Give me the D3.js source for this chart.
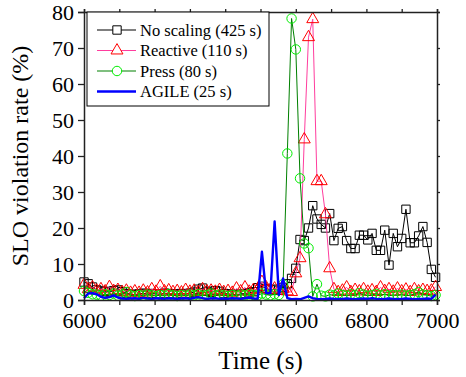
<!DOCTYPE html>
<html>
<head>
<meta charset="utf-8">
<script src="https://cdn.jsdelivr.net/npm/d3@7"></script>
<style>
  body { margin: 0; background: #fff; }
</style>
</head>
<body>
<div id="chart"></div>
<script>
(function()
{
    var width = 466;
    var height = 377;
    var margin = {top: 12, right: 29, bottom: 77, left: 84};
    var serif = "'Liberation Serif', 'Times New Roman', Times, serif";

    // sample times, one every 12 s
    var times = d3.range(6000, 7000, 12);

    var noScaling = [5.0, 4.5, 3.6, 2.8, 2.5, 2.4, 2.2, 2.6, 2.8, 2.3,
        1.8, 1.6, 1.5, 1.7, 1.9, 1.6, 1.8, 1.7, 1.6, 1.9,
        1.8, 1.6, 1.7, 1.8, 1.6, 1.9, 2.2, 3.0, 3.3, 2.4,
        2.1, 2.6, 2.4, 1.8, 1.7, 1.6, 1.5, 1.7, 1.8, 2.0,
        2.3, 3.4, 3.8, 3.2, 2.8, 3.0, 2.7, 3.5, 4.5, 6.0,
        8.8, 16.8, 16.5, 20.0, 26.2, 22.5, 21.0, 20.0, 24.0, 16.5,
        19.9, 20.4, 16.5, 14.3, 14.3, 18.0, 18.0, 16.7, 18.5, 13.8,
        13.8, 19.4, 9.7, 18.5, 14.8, 17.1, 25.2, 15.9, 15.9, 17.8,
        20.4, 16.0, 8.5, 6.3];

    var reactive = [4.2, 3.0, 3.5, 2.6, 3.0, 2.4, 3.6, 2.5, 2.8, 2.2,
        2.6, 2.0, 2.4, 2.0, 2.6, 2.1, 3.0, 2.3, 3.8, 2.4,
        2.7, 2.2, 2.5, 2.1, 2.8, 2.3, 2.6, 2.2, 3.0, 2.4,
        2.6, 2.3, 2.8, 2.2, 2.5, 2.0, 3.2, 2.4, 3.5, 2.3,
        2.8, 3.0, 5.0, 3.5, 2.8, 3.2, 2.6, 3.0, 2.4, 2.2,
        7.4, 11.6, 44.6, 73.0, 78.0, 33.0, 33.0, 23.8, 8.8, 3.0,
        2.2, 2.6, 3.5, 2.2, 2.8, 2.4, 3.0, 2.3, 2.7, 2.2,
        3.5, 2.5, 3.0, 2.3, 3.2, 2.4, 2.9, 2.2, 3.0, 2.4,
        2.8, 2.5, 2.6, 3.6];

    var press = [2.5, 2.0, 1.6, 1.5, 1.2, 1.6, 1.4, 1.8, 1.2, 1.5,
        2.2, 1.3, 1.1, 1.4, 1.2, 1.5, 1.3, 1.1, 1.4, 1.2,
        1.6, 1.3, 1.1, 1.4, 1.2, 1.5, 1.3, 1.6, 1.2, 1.4,
        1.8, 1.2, 1.5, 1.3, 1.1, 1.4, 1.2, 1.5, 1.3, 1.6,
        1.4, 1.3, 1.8, 1.5, 1.3, 1.6, 1.4, 4.4, 40.7, 78.2,
        69.6, 33.8, 15.7, 14.4, 1.0, 4.4, 1.2, 1.0, 1.5, 1.3,
        1.8, 1.4, 1.2, 1.6, 1.3, 1.9, 1.5, 1.2, 1.4, 1.7,
        1.3, 1.6, 1.2, 1.4, 1.3, 1.5, 1.2, 1.4, 1.6, 2.2,
        1.5, 1.3, 1.1, 1.4];

    var agile = [0.5, 1.8, 1.9, 1.6, 0.9, 0.6, 0.8, 1.3, 0.7, 0.4,
        0.3, 0.4, 0.5, 0.3, 0.6, 0.4, 0.3, 0.5, 0.4, 0.3,
        0.5, 0.4, 0.3, 0.4, 0.5, 0.3, 0.6, 0.8, 0.5, 0.3,
        0.4, 0.5, 0.3, 0.4, 0.3, 0.5, 0.4, 0.3, 0.5, 0.7,
        0.4, 0.3, 13.4, 1.9, 1.9, 21.8, 1.4, 6.0, 0.5, 0.2,
        0.3, 0.2, 0.6, 1.0, 0.5, 0.3, 0.2, 0.3, 0.4, 0.3,
        0.2, 0.3, 0.4, 0.3, 0.2, 0.3, 0.4, 0.3, 0.5, 0.3,
        0.2, 0.3, 0.4, 0.3, 0.2, 0.3, 0.4, 0.3, 0.2, 0.3,
        0.3, 0.4, 0.3, 1.5];

    var seriesNames = ["No scaling (425 s)", "Reactive (110 s)", "Press (80 s)", "AGILE (25 s)"];
    var xTicks = [6000, 6200, 6400, 6600, 6800, 7000];
    var yTicks = [0, 10, 20, 30, 40, 50, 60, 70, 80];

    var series = [
        {name: seriesNames[0], values: noScaling, line: "#000000", mark: "#000000", shape: "square", lw: 1},
        {name: seriesNames[1], values: reactive, line: "#ff3d9e", mark: "#ff0000", shape: "triangle", lw: 1},
        {name: seriesNames[2], values: press, line: "#008000", mark: "#00ee00", shape: "circle", lw: 1},
        {name: seriesNames[3], values: agile, line: "#0000ff", mark: null, shape: null, lw: 2.4}
    ];

    var iw = width - margin.left - margin.right;
    var ih = height - margin.top - margin.bottom;

    var svg = d3.select("#chart").append("svg")
        .attr("width", width)
        .attr("height", height)
        .style("font-family", serif);

    var g = svg.append("g").attr("transform", "translate(" + margin.left + "," + margin.top + ")");

    var x = d3.scaleLinear().domain([6000, 7000]).range([0, iw]);
    var y = d3.scaleLinear().domain([0, 80]).range([ih, 0]);

    var symbols = {
        square: d3.symbol().type(d3.symbolSquare).size(70),
        triangle: d3.symbol().type(d3.symbolTriangle).size(62),
        circle: d3.symbol().type(d3.symbolCircle).size(70)
    };

    var plot = g.append("g");

    series.forEach(function(s) {
        var pts = s.values.map(function(v, i) { return [times[i], v]; });
        plot.append("path")
            .datum(pts)
            .attr("fill", "none")
            .attr("stroke", s.line)
            .attr("stroke-width", s.lw)
            .attr("stroke-linejoin", "round")
            .attr("d", d3.line().x(function(d){return x(d[0])}).y(function(d){return y(d[1])}));
        if (s.shape) {
            plot.selectAll(".m-" + s.shape).data(pts)
                .enter().append("path")
                .attr("class", "m-" + s.shape)
                .attr("d", symbols[s.shape])
                .attr("transform", function(d){return "translate(" + x(d[0]) + "," + y(d[1]) + ")"})
                .attr("fill", "none")
                .attr("stroke", s.mark)
                .attr("stroke-width", 1);
        }
    });

    // axes
    var bottom = g.append("g").attr("transform", "translate(0," + ih + ")")
        .call(d3.axisBottom(x).tickValues(d3.range(6000, 7001, 100)).tickSize(5).tickPadding(7)
            .tickFormat(function(d){ return xTicks.indexOf(d) >= 0 ? d : ""; }));
    var top = g.append("g")
        .call(d3.axisTop(x).tickValues(d3.range(6000, 7001, 100)).tickSize(3).tickFormat(""));
    var left = g.append("g")
        .call(d3.axisLeft(y).tickValues(yTicks).tickSize(6).tickPadding(4));
    var right = g.append("g").attr("transform", "translate(" + iw + ",0)")
        .call(d3.axisRight(y).tickValues(yTicks).tickSize(3).tickFormat(""));

    [bottom, top, left, right].forEach(function(a) {
        a.attr("font-family", null).attr("font-size", null);
        a.select(".domain").attr("stroke", "#222").attr("stroke-width", 1.5);
        a.selectAll(".tick line").attr("stroke", "#222").attr("stroke-width", 1.3);
        a.selectAll("text")
            .style("font-family", serif)
            .style("font-size", "22px")
            .attr("fill", "#000");
    });

    // axis titles
    svg.append("text")
        .attr("x", margin.left + iw / 2)
        .attr("y", 369)
        .attr("text-anchor", "middle")
        .style("font-family", serif)
        .style("font-size", "25px")
        .text("Time (s)");

    svg.append("text")
        .attr("transform", "translate(28," + (margin.top + ih / 2) + ") rotate(-90)")
        .attr("text-anchor", "middle")
        .style("font-family", serif)
        .style("font-size", "24px")
        .text("SLO violation rate (%)");

    // legend
    var legend = g.append("g").attr("transform", "translate(3,0)");
    legend.append("rect")
        .attr("x", 0).attr("y", 0)
        .attr("width", 182).attr("height", 94)
        .attr("fill", "#fff")
        .attr("stroke", "#000")
        .attr("stroke-width", 1);

    series.forEach(function(s, i) {
        var row = legend.append("g").attr("transform", "translate(0," + (18 + i * 20.5) + ")");
        row.append("line")
            .attr("x1", 10).attr("x2", 49)
            .attr("y1", 0).attr("y2", 0)
            .attr("stroke", s.line)
            .attr("stroke-width", s.lw === 1 ? 1.2 : 2.4);
        if (s.shape) {
            row.append("path")
                .attr("d", symbols[s.shape])
                .attr("transform", "translate(30,0)")
                .attr("fill", "#fff")
                .attr("stroke", s.mark);
        }
        row.append("text")
            .attr("x", 53).attr("y", 5.5)
            .style("font-family", serif)
            .style("font-size", "16.5px")
            .text(s.name);
    });

})();
</script>
</body>
</html>
